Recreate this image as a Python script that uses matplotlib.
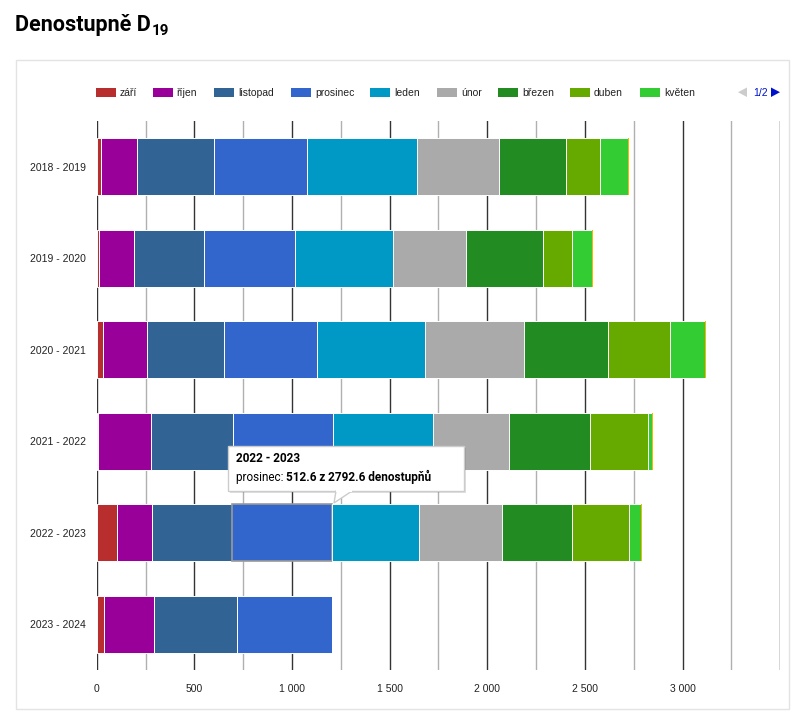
import matplotlib
matplotlib.use("Agg")
import matplotlib.pyplot as plt
from matplotlib.patches import Rectangle, Polygon
import numpy as np

roky = ["2018 - 2019", "2019 - 2020", "2020 - 2021", "2021 - 2022", "2022 - 2023", "2023 - 2024"]
mesice = ["září", "říjen", "listopad", "prosinec", "leden", "únor", "březen", "duben", "květen", "červen"]
barvy = ["#b82e2e", "#990099", "#316395", "#3366cc", "#0099c6", "#aaaaaa", "#228b22", "#66aa00", "#33cc33", "#ffb300"]

zari = [22, 12, 32, 9, 103, 39]
rijen = [184, 181, 227, 269, 179, 254]
listopad = [395, 358, 394, 418, 409, 427]
prosinec = [477, 464, 477, 513, 512.6, 487]
leden = [564, 504, 553, 513, 449, 0]
unor = [419, 373, 506, 388, 423, 0]
brezen = [343, 395, 431, 416, 360, 0]
duben = [174, 148, 317, 296, 292, 0]
kveten = [144, 103, 178, 19, 58, 0]
cerven = [3, 3, 3, 8, 7, 0]
data = [zari, rijen, listopad, prosinec, leden, unor, brezen, duben, kveten, cerven]

xticks = [0, 500, 1000, 1500, 2000, 2500, 3000, 3500]
xlabels = ["0", "500", "1 000", "1 500", "2 000", "2 500", "3 000", ""]

W, H = 801, 720
fig = plt.figure(figsize=(W / 100, H / 100), dpi=100)

def px(x0, y0, x1, y1):
    return [x0 / W, 1 - y1 / H, (x1 - x0) / W, (y1 - y0) / H]

ax = fig.add_axes(px(96.7, 121, 780.3, 670))
y = np.arange(len(roky))
left = np.zeros(len(roky))
bars = []
for i, vals in enumerate(data):
    v = np.array(vals, dtype=float)
    lw = 0 if i == len(data) - 1 else 0.7
    b = ax.barh(y, v, left=left, height=0.62, color=barvy[i], edgecolor="white", linewidth=lw, zorder=3)
    bars.append(b)
    left += v
# zvyrazneny segment (tooltip)
hl = bars[3][4]
hl.set_edgecolor("#9a9a9a")
hl.set_linewidth(1.2)

ax.set_xlim(0, 3500)
ax.set_ylim(5.5, -0.5)
ax.set_xticks(xticks)
ax.set_xticklabels(xlabels)
for xv in range(0, 3501, 250):
    ax.axvline(xv, color="#333333" if xv % 500 == 0 else "#b0b0b0", lw=1, zorder=1)
ax.set_yticks(y)
ax.set_yticklabels(roky)
for s in ax.spines.values():
    s.set_visible(False)
ax.tick_params(length=0, labelsize=7.5, colors="#222222", pad=10)
ax.tick_params(axis="y", pad=8)
for t in ax.get_xticklabels() + ax.get_yticklabels():
    t.set_fontfamily("Liberation Sans")

# overlay v pixelech
ov = fig.add_axes([0, 0, 1, 1])
ov.set_xlim(0, W)
ov.set_ylim(H, 0)
ov.axis("off")
ov.patch.set_alpha(0)

ov.add_patch(Rectangle((16, 60), 773, 649, fill=False, edgecolor="#e3e3e3", lw=1))

# legenda
sw_x = [96, 153, 214, 291, 370, 437, 498, 570, 640]
for i in range(9):
    ov.add_patch(Rectangle((sw_x[i], 87.5), 20, 9.5, color=barvy[i], lw=0))
    ov.text(sw_x[i] + 24, 92.5, mesice[i], fontsize=7.5, family="Liberation Sans",
            color="#222222", va="center", ha="left")
ov.add_patch(Polygon([(747, 87.5), (747, 97), (738, 92.2)], color="#cccccc", lw=0))
ov.text(753, 92.5, "1/2", fontsize=7.5, family="Liberation Sans", color="#0011cc", va="center")
ov.add_patch(Polygon([(771, 87.5), (771, 97), (780, 92.2)], color="#0011cc", lw=0))

# titulek
tfont = ["Roboto", "DejaVu Sans"]
t = ov.text(15, 31, "Denostupně D", fontsize=15.5, fontweight="bold", family=tfont,
            color="black", va="baseline", ha="left")
fig.canvas.draw()
bb = t.get_window_extent()
ov.text(15 + bb.width + 1, 35, "19", fontsize=11, fontweight="bold", family=tfont,
        color="black", va="baseline", ha="left")

# tooltip
ov.add_patch(Rectangle((230, 448), 236, 45, color="#000000", alpha=0.12, lw=0, zorder=4))
ov.add_patch(Rectangle((228, 446), 236, 45, facecolor="white", edgecolor="#cccccc", lw=1, zorder=5))
ov.add_patch(Polygon([(336, 491), (352, 491), (334, 503)], closed=True, facecolor="white",
                     edgecolor="#cccccc", lw=1, zorder=5))
ov.plot([337, 351], [491, 491], color="white", lw=1.5, zorder=6)
ov.text(236, 458, "2022 - 2023", fontsize=8.5, fontweight="bold", family=tfont,
        color="black", va="center", zorder=7)
t2 = ov.text(236, 477, "prosinec: ", fontsize=8.5, family=tfont, color="black", va="center", zorder=7)
fig.canvas.draw()
bb2 = t2.get_window_extent()
ov.text(236 + bb2.width, 477, "512.6 z 2792.6 denostupňů", fontsize=8.5, fontweight="bold",
        family=tfont, color="black", va="center", zorder=7)

fig.savefig("out.png", dpi=100)
